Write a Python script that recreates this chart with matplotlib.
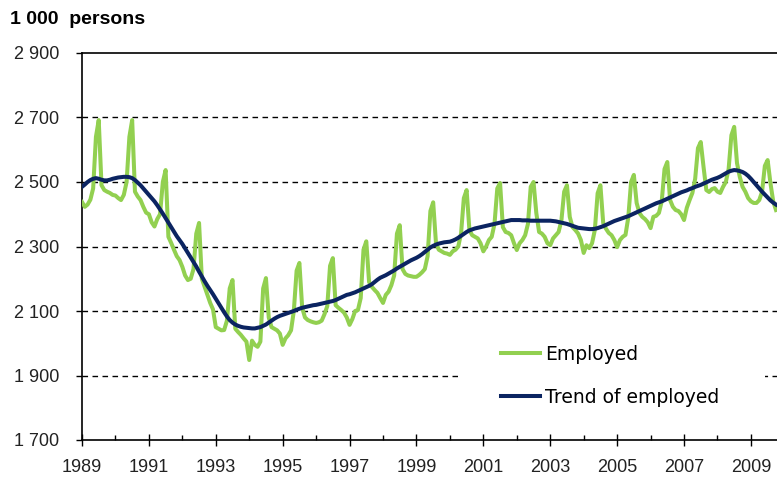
import numpy as np
import matplotlib
matplotlib.use("Agg")
from matplotlib import pyplot as plt
from matplotlib.patches import Rectangle
from matplotlib.ticker import MultipleLocator

plt.rcParams['font.family'] = ['Liberation Sans', 'DejaVu Sans']

# monthly values, 1000 persons, Jan 1989 .. Oct 2009
employed = {
    1989: [2438, 2423, 2430, 2445, 2480, 2640, 2692, 2490, 2475, 2470, 2466, 2460],
    1990: [2458, 2450, 2444, 2460, 2500, 2640, 2692, 2470, 2455, 2444, 2423, 2405],
    1991: [2400, 2375, 2362, 2385, 2400, 2500, 2537, 2330, 2311, 2290, 2270, 2258],
    1992: [2237, 2210, 2196, 2200, 2230, 2340, 2373, 2200, 2175, 2150, 2125, 2105],
    1993: [2050, 2045, 2040, 2041, 2070, 2170, 2196, 2045, 2035, 2026, 2015, 2005],
    1994: [1948, 2008, 1995, 1989, 2005, 2170, 2202, 2080, 2050, 2045, 2040, 2030],
    1995: [1995, 2015, 2025, 2040, 2100, 2225, 2249, 2110, 2080, 2072, 2068, 2065],
    1996: [2063, 2065, 2070, 2090, 2115, 2240, 2264, 2118, 2110, 2103, 2095, 2080],
    1997: [2057, 2075, 2100, 2103, 2140, 2290, 2316, 2190, 2175, 2165, 2156, 2140],
    1998: [2125, 2150, 2160, 2180, 2210, 2340, 2366, 2230, 2215, 2210, 2208, 2206],
    1999: [2206, 2212, 2220, 2230, 2270, 2410, 2437, 2311, 2290, 2285, 2280, 2278],
    2000: [2274, 2285, 2290, 2300, 2340, 2450, 2475, 2351, 2335, 2330, 2325, 2310],
    2001: [2285, 2300, 2320, 2330, 2370, 2480, 2497, 2360, 2345, 2342, 2335, 2310],
    2002: [2289, 2310, 2320, 2335, 2370, 2485, 2500, 2404, 2345, 2340, 2330, 2310],
    2003: [2304, 2325, 2335, 2345, 2380, 2470, 2490, 2392, 2360, 2351, 2340, 2320],
    2004: [2280, 2304, 2295, 2310, 2351, 2465, 2490, 2373, 2355, 2342, 2335, 2320],
    2005: [2298, 2320, 2330, 2336, 2390, 2500, 2522, 2435, 2404, 2392, 2385, 2375],
    2006: [2357, 2392, 2395, 2404, 2440, 2540, 2562, 2444, 2423, 2413, 2410, 2400],
    2007: [2382, 2420, 2444, 2466, 2510, 2605, 2624, 2547, 2475, 2469, 2478, 2481],
    2008: [2470, 2466, 2485, 2500, 2540, 2645, 2671, 2559, 2516, 2485, 2470, 2450],
    2009: [2440, 2435, 2435, 2444, 2470, 2550, 2568, 2497, 2440, 2413],
}
trend = {
    1989: [2485, 2492, 2500, 2506, 2510, 2512, 2510, 2507, 2505, 2505, 2507, 2510],
    1990: [2512, 2514, 2515, 2516, 2516, 2515, 2512, 2506, 2498, 2490, 2480, 2470],
    1991: [2460, 2450, 2440, 2428, 2415, 2402, 2388, 2374, 2360, 2346, 2332, 2320],
    1992: [2308, 2294, 2280, 2266, 2252, 2238, 2222, 2207, 2192, 2178, 2165, 2152],
    1993: [2138, 2124, 2110, 2096, 2083, 2072, 2064, 2058, 2054, 2051, 2049, 2048],
    1994: [2047, 2046, 2046, 2048, 2050, 2054, 2058, 2064, 2070, 2076, 2081, 2085],
    1995: [2088, 2091, 2094, 2097, 2100, 2104, 2107, 2110, 2112, 2114, 2116, 2118],
    1996: [2119, 2121, 2123, 2125, 2127, 2129, 2131, 2134, 2138, 2142, 2146, 2150],
    1997: [2152, 2155, 2158, 2162, 2166, 2170, 2174, 2178, 2183, 2190, 2197, 2203],
    1998: [2207, 2211, 2216, 2221, 2226, 2232, 2237, 2242, 2247, 2252, 2257, 2261],
    1999: [2265, 2270, 2276, 2283, 2290, 2297, 2302, 2306, 2309, 2311, 2313, 2314],
    2000: [2315, 2318, 2322, 2327, 2333, 2339, 2345, 2350, 2353, 2356, 2358, 2360],
    2001: [2362, 2364, 2366, 2368, 2370, 2372, 2374, 2376, 2378, 2380, 2382, 2382],
    2002: [2382, 2382, 2381, 2381, 2381, 2380, 2380, 2380, 2380, 2380, 2380, 2380],
    2003: [2380, 2379, 2378, 2376, 2374, 2372, 2370, 2367, 2364, 2361, 2358, 2357],
    2004: [2356, 2355, 2354, 2354, 2355, 2357, 2360, 2363, 2367, 2371, 2375, 2379],
    2005: [2382, 2385, 2388, 2391, 2394, 2398, 2402, 2406, 2410, 2414, 2418, 2422],
    2006: [2426, 2430, 2434, 2437, 2440, 2444, 2448, 2452, 2456, 2460, 2464, 2468],
    2007: [2471, 2474, 2478, 2481, 2485, 2488, 2491, 2495, 2499, 2503, 2507, 2510],
    2008: [2513, 2517, 2522, 2527, 2532, 2535, 2537, 2536, 2534, 2531, 2526, 2519],
    2009: [2510, 2500, 2490, 2480, 2470, 2461, 2452, 2443, 2436, 2430],
}
y_ticks = [1700, 1900, 2100, 2300, 2500, 2700, 2900]
y_labels = ["1 700", "1 900", "2 100", "2 300", "2 500", "2 700", "2 900"]
x_years = list(range(1989, 2010, 2))

emp = np.array([v for yr in sorted(employed) for v in employed[yr]], dtype=float)
trd = np.array([v for yr in sorted(trend) for v in trend[yr]], dtype=float)
t = 1989 + np.arange(len(emp)) / 12.0

fig = plt.figure(figsize=(7.77, 4.78), dpi=100)
ax = fig.add_axes([82/777, 1 - 440/478, 695/777, 387/478])

for v in y_ticks[1:-1]:
    ax.axhline(v, color='black', lw=1.0, dashes=(4, 3.2), zorder=1)

# legend background hides the grid line behind it
ax.add_patch(Rectangle((0.541, 0.065), 0.442, 0.206, transform=ax.transAxes,
                       facecolor='white', edgecolor='none', zorder=2))

ax.plot(t, emp, color='#92D050', lw=2.9, label='Employed', zorder=3)
ax.plot(t, trd, color='#0B2461', lw=2.9, label='Trend of employed', zorder=4)

ax.set_xlim(1989, 2009.78)
ax.set_ylim(1700, 2900)
ax.set_yticks(y_ticks)
ax.set_yticklabels(y_labels)
ax.set_xticks(x_years)
ax.set_xticklabels([str(y) for y in x_years])
ax.xaxis.set_minor_locator(MultipleLocator(1))

ax.tick_params(axis='y', direction='out', length=4.5, width=1, pad=12,
               labelsize=13, colors='black', labelcolor='#222222')
ax.tick_params(axis='x', which='major', direction='inout', length=8, width=1,
               pad=10, labelsize=13, labelcolor='#222222')
ax.tick_params(axis='x', which='minor', direction='in', length=3.6, width=1)

ax.spines['right'].set_visible(False)
for s in ['left', 'bottom', 'top']:
    ax.spines[s].set_linewidth(1.2)

ax.legend(loc='center left', bbox_to_anchor=(0.603, 0.166), frameon=False,
          prop={'family': ['DejaVu Sans'], 'size': 13.5},
          handlelength=2.1, handletextpad=0.25, labelspacing=1.3,
          borderaxespad=0, borderpad=0)

fig.text(10/777, 1 - 20/478, "1 000  persons", fontsize=14, fontweight='bold',
         ha='left', va='center')

fig.savefig("out.png", dpi=100)
